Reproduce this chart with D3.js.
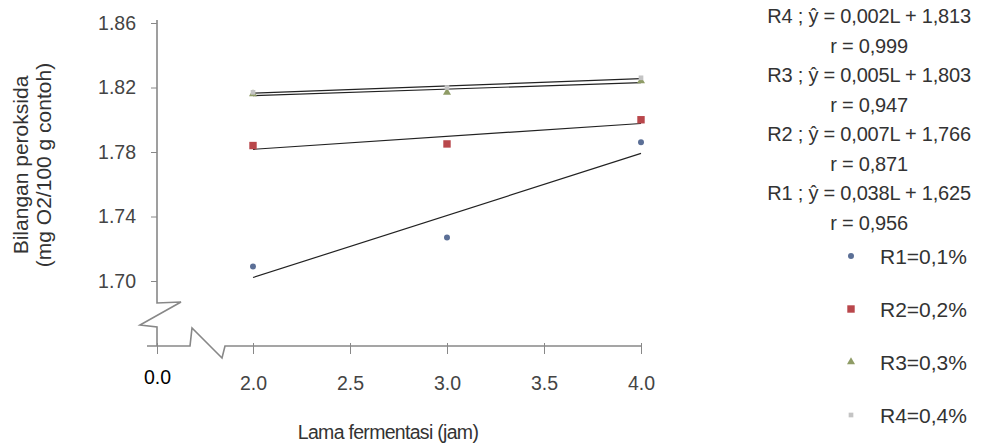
<html>
<head>
<script src="https://d3js.org/d3.v7.min.js"></script>
<style type="text/css">
  body { margin: 0; background: #fff; }
  text { font-family: "Liberation Sans", Arial, sans-serif; }
</style>
</head>
<body>
<svg id="chart" width="983" height="445"></svg>
<script>
// data
var hours = [2, 3, 4];
var r1 = [1.709, 1.727, 1.786];
var r2 = [1.784, 1.785, 1.800];
var r3 = [1.816, 1.817, 1.824];
var r4 = [1.817, 1.820, 1.826];
var seriesNames = ["R1", "R2", "R3", "R4"];
var legendLabels = ["R1=0,1%", "R2=0,2%", "R3=0,3%", "R4=0,4%"];
// printed regression equations (y = aL + b) and r
var slopes = [0.038, 0.007, 0.005, 0.002];
var intercepts = [1.625, 1.766, 1.803, 1.813];
var rValues = [0.956, 0.871, 0.947, 0.999];
var xTicks = [0, 2, 2.5, 3, 3.5, 4];
var yTicks = [1.70, 1.74, 1.78, 1.82, 1.86];

var colors = ["#5b6f96", "#b9474b", "#8f9c66", "#c4c4c4"];
var symbols = [d3.symbolCircle, d3.symbolSquare, d3.symbolTriangle, d3.symbolSquare];
var symSizes = [28, 55, 28, 22];

var svg = d3.select("#chart");

// broken axes: 0 at the origin, then jump to the data range
var x = d3.scaleLinear().domain([0, 2, 4]).range([157, 253, 641]);
var y = d3.scaleLinear().domain([0, 1.70, 1.86]).range([346, 281, 23]);
var x0 = x(0), y0 = y(0);

// y axis
var yAxis = svg.append("g")
    .attr("transform", "translate(" + x0 + ",0)")
    .call(d3.axisLeft(y).tickValues(yTicks).tickSize(6).tickPadding(15).tickFormat(d3.format(".2f")));
yAxis.select(".domain").remove();
yAxis.selectAll(".tick line").attr("stroke", "#888");
yAxis.selectAll(".tick text").attr("fill", "#444").style("font-size", "19.5px");

// x axis
var xAxis = svg.append("g")
    .attr("transform", "translate(0," + y0 + ")")
    .call(d3.axisBottom(x).tickValues(xTicks).tickSize(8).tickPadding(22).tickFormat(d3.format(".1f")));
xAxis.select(".domain").remove();
xAxis.selectAll(".tick line").attr("stroke", "#888").attr("y1", -3);
xAxis.selectAll(".tick text").attr("fill", "#444").style("font-size", "19.5px");
xAxis.selectAll(".tick").filter(function(d) { return d === 0; }).select("text")
    .attr("fill", "#000").attr("y", 24).style("font-size", "19.5px");

// axis lines with break marks
var axisLine = d3.line();
svg.append("path")
    .attr("d", axisLine([[x0, y(1.86) - 3], [x0, y0 - 43], [x0 + 24, y0 - 44], [x0 - 17, y0 - 21], [x0, y0 - 19], [x0, y0]]))
    .attr("fill", "none").attr("stroke", "#888").attr("stroke-width", 1.6);
svg.append("path")
    .attr("d", axisLine([[x0 - 10, y0], [x0 + 33, y0], [x0 + 35, y0 - 18], [x0 + 65, y0 + 12], [x0 + 68, y0], [x(4), y0]]))
    .attr("fill", "none").attr("stroke", "#888").attr("stroke-width", 1.6);

// trend lines (least squares of each series)
var allSeries = [r1, r2, r3, r4];
var line = d3.line().x(function(d) { return x(d[0]); }).y(function(d) { return y(d[1]); });
allSeries.forEach(function(vals) {
  var mx = d3.mean(hours), my = d3.mean(vals);
  var b = d3.sum(hours, function(h, i) { return (h - mx) * (vals[i] - my); }) /
          d3.sum(hours, function(h) { return (h - mx) * (h - mx); });
  var a = my - b * mx;
  var ends = [d3.min(hours), d3.max(hours)];
  svg.append("path")
      .attr("d", line(ends.map(function(h) { return [h, a + b * h]; })))
      .attr("fill", "none").attr("stroke", "#222").attr("stroke-width", 1.2);
});

// points
allSeries.forEach(function(vals, s) {
  svg.selectAll(".pt" + s)
    .data(vals)
    .enter()
    .append("path")
      .attr("d", d3.symbol().type(symbols[s]).size(symSizes[s]))
      .attr("transform", function(d, i) { return "translate(" + x(hours[i]) + "," + y(d) + ")"; })
      .attr("fill", colors[s]);
});

// equations, listed R4 first
var fmt = function(v) { return d3.format(".3f")(v).replace(".", ","); };
var eqLines = [];
for (var i = seriesNames.length - 1; i >= 0; i--) {
  eqLines.push(seriesNames[i] + " ; \u0177 = " + fmt(slopes[i]) + "L + " + fmt(intercepts[i]));
  eqLines.push("r = " + fmt(rValues[i]));
}
svg.selectAll(".eq")
  .data(eqLines)
  .enter()
  .append("text")
    .attr("x", 869)
    .attr("y", function(d, i) { return 16 + i * 29.5; })
    .attr("text-anchor", "middle")
    .attr("dominant-baseline", "central")
    .attr("fill", "#333")
    .style("font-size", "20px")
    .style("letter-spacing", "-0.2px")
    .text(function(d) { return d; });

// legend
var leg = svg.selectAll(".leg")
  .data(legendLabels)
  .enter()
  .append("g")
    .attr("transform", function(d, i) { return "translate(851," + (256 + i * 53) + ")"; });
leg.append("path")
    .attr("d", function(d, i) { return d3.symbol().type(symbols[i]).size(symSizes[i])(); })
    .attr("fill", function(d, i) { return colors[i]; });
leg.append("text")
    .attr("x", 29)
    .attr("dominant-baseline", "central")
    .attr("fill", "#333")
    .style("font-size", "21px")
    .text(function(d) { return d; });

// axis titles
svg.append("text")
    .attr("x", 388).attr("y", 432)
    .attr("text-anchor", "middle").attr("dominant-baseline", "central")
    .attr("fill", "#333").style("font-size", "19.5px").style("letter-spacing", "-0.7px")
    .text("Lama fermentasi (jam)");
var yt = svg.append("text")
    .attr("transform", "translate(21,165) rotate(-90)")
    .attr("text-anchor", "middle").attr("fill", "#333").style("font-size", "21px");
yt.append("tspan").attr("x", 0).attr("dy", "0.35em").text("Bilangan peroksida");
yt.append("tspan").attr("x", 0).attr("dy", "1.1em").text("(mg O2/100 g contoh)");
</script>
</body>
</html>
